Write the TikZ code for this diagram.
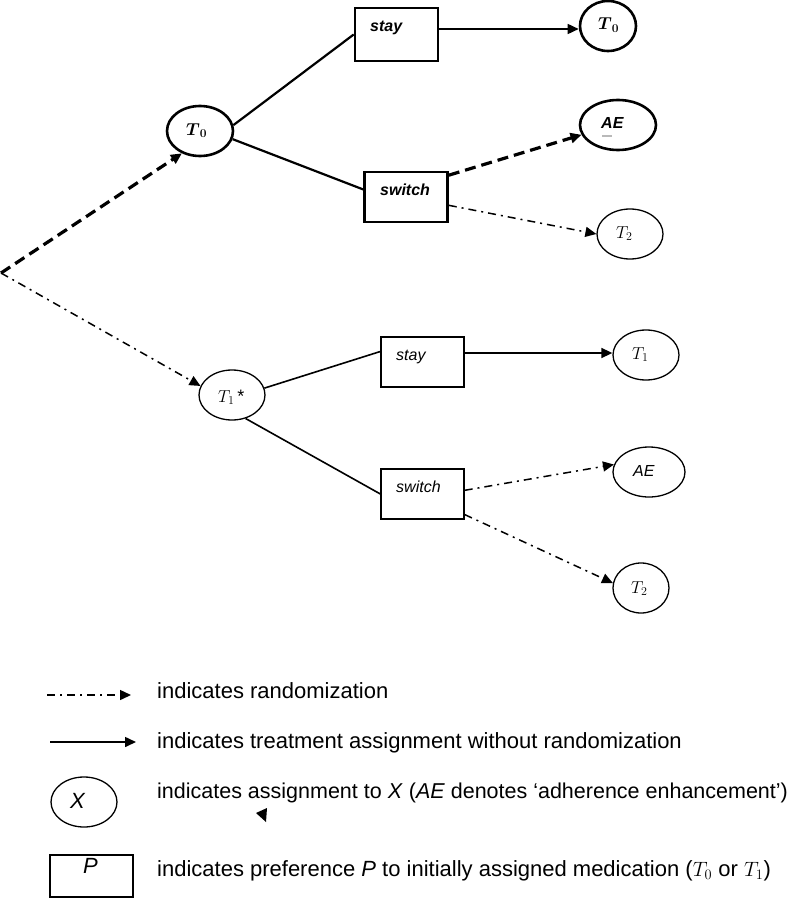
\documentclass[tikz,border=0pt]{standalone}
\usepackage{amsmath}
\usepackage{fontspec}
\setmainfont{Liberation Sans}
\usetikzlibrary{shapes.geometric,arrows.meta,calc}
\tikzset{
  ell/.style={ellipse, draw, line width=1.3pt, inner sep=0pt},
  ellb/.style={ell, line width=2.6pt},
  box/.style={rectangle, draw, line width=1.3pt, inner sep=0pt, minimum width=83pt, minimum height=50pt},
  boxb/.style={box, line width=2.6pt},
  lbl/.style={inner sep=0pt, anchor=base west, font=\fontsize{16}{19}\selectfont\itshape},
  lblb/.style={inner sep=0pt, anchor=base west, font=\fontsize{16}{19}\selectfont\bfseries\itshape},
  mlbl/.style={inner sep=0pt, anchor=base west, font=\fontsize{18}{21}\selectfont},
  solidline/.style={line width=1.6pt},
  thickline/.style={line width=2.2pt},
  arr/.style={-{Triangle[length=11pt,width=10pt]}},
  randline/.style={line width=1.5pt, dash pattern=on 8pt off 5pt on 2pt off 5pt},
  bigdash/.style={line width=3.2pt, dash pattern=on 11pt off 6pt},
  legtext/.style={anchor=base west, inner sep=0pt, font=\fontsize{22}{26}\selectfont}
}
\begin{document}
\begin{tikzpicture}[x=1pt,y=-1pt]
\useasboundingbox (0,0) rectangle (800,899);
\coordinate (origin) at (1,273);

% upper branch
\node[ellb, minimum width=66pt, minimum height=50pt] (T0a) at (200,131) {};
\node[mlbl] (T0atxt) at (186,135) {$\boldsymbol{T}_{\boldsymbol{0}}$};
\node[boxb, minimum height=53pt] (stay1) at (396.5,34.5) {};
\node[lblb] (stay1txt) at (370,32) {stay};
\node[boxb] (sw1) at (406,197) {};
\node[lblb] (sw1txt) at (380,195) {switch};
\node[ellb, minimum width=56pt, minimum height=50pt] (T0b) at (608,26) {};
\node[mlbl] (T0btxt) at (598,30) {$\boldsymbol{T}_{\boldsymbol{0}}$};
\node[ellb, minimum width=76pt, minimum height=50pt] (AE1) at (618,125) {};
\node[lblb] (AE1txt) at (601,128) {AE};
\node[ell, minimum width=66pt, minimum height=50pt] (T2a) at (630,234) {};
\node[mlbl] (T2atxt) at (616,238) {$T_2$};
\draw[gray!55, line width=1.5pt] (602,136) -- (612,136);

\draw[bigdash, arr] (origin) -- (T0a.-129);
\draw[thickline] (T0a.10) -- (stay1.west);
\draw[thickline] (T0a.-14) -- (sw1.170);
\draw[solidline, arr] ([yshift=5.5pt]stay1.east) -- ([yshift=5.5pt]stay1.east -| T0b.west);
\draw[bigdash, arr] (sw1.27) -- (AE1.195);
\draw[randline, arr] (sw1.-11) -- (T2a.west);

% lower branch
\node[ell, minimum width=66pt, minimum height=50pt] (T1s) at (232,395) {};
\node[mlbl] (T1stxt) at (218,402) {$T_1$\,*};
\node[box] (st2) at (422.5,362) {};
\node[lbl] (st2txt) at (396,360) {stay};
\node[box] (sw2) at (422.5,494) {};
\node[lbl] (sw2txt) at (396,492) {switch};
\node[ell, minimum width=66pt, minimum height=50pt] (T1b) at (646,355) {};
\node[mlbl] (T1btxt) at (632,359) {$T_1$};
\node[ell, minimum width=72pt, minimum height=50pt] (AE2) at (649,472) {};
\node[lbl] (AE2txt) at (633,476) {AE};
\node[ell, minimum width=56pt, minimum height=50pt] (T2b) at (641,588) {};
\node[mlbl] (T2btxt) at (631,593) {$T_2$};

\draw[randline, arr] (origin) -- (T1s.164);
\draw[solidline] (T1s.12) -- (st2.166);
\draw[solidline] (T1s.-60) -- (sw2.west);
\draw[solidline, arr] ([yshift=9pt]st2.east) -- ([yshift=9pt]st2.east -| T1b.west);
\draw[randline, arr] (sw2.5) -- (AE2.168);
\draw[randline, arr] (sw2.-26) -- (T2b.170);

% legend
\coordinate (l1a) at (47,695);
\coordinate (l1b) at (131,695);
\draw[randline, arr] (l1a) -- (l1b);
\node[legtext] (lt1) at (157,698) {indicates randomization};
\coordinate (l2a) at (50,742);
\coordinate (l2b) at (136,742);
\draw[solidline, arr] (l2a) -- (l2b);
\node[legtext] (lt2) at (157,748) {indicates treatment assignment without randomization};
\node[ell, minimum width=66pt, minimum height=50pt] (lx) at (84,802) {};
\node[inner sep=0pt, anchor=base west, font=\fontsize{22}{26}\selectfont\itshape] (lxtxt) at (70,808) {X};
\node[legtext, font=\fontsize{21.5}{26}\selectfont] (lt3) at (157,798) {indicates assignment to \textit{X} (\textit{AE} denotes ‘adherence enhancement’)};
\fill (256,813) -- (267,808) -- (266,822) -- cycle;
\node[box, minimum height=42pt] (lp) at (91.5,876) {};
\node[inner sep=0pt, anchor=base west, font=\fontsize{22}{26}\selectfont\itshape] (lptxt) at (83,873) {P};
\node[legtext] (lt4) at (157,876) {indicates preference \textit{P} to initially assigned medication ($T_0$ or $T_1$)};
\end{tikzpicture}
\end{document}
